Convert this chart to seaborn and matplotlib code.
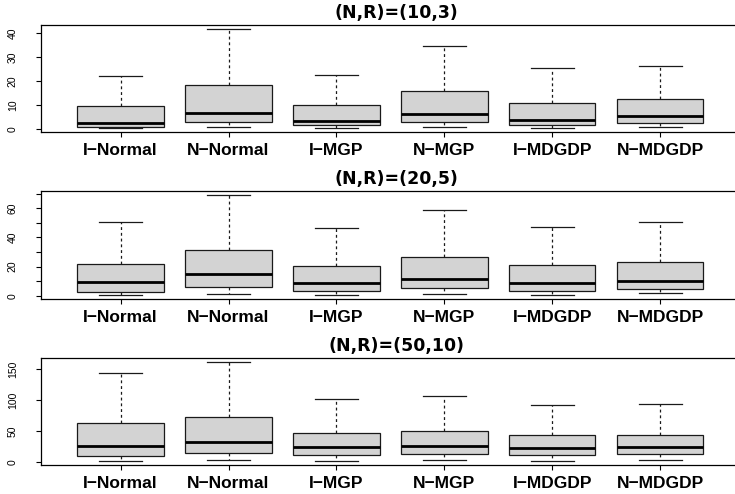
import numpy as np
import pandas as pd
import matplotlib
matplotlib.use("Agg")
import matplotlib.pyplot as plt
import seaborn as sns
from matplotlib.ticker import FixedLocator, FuncFormatter

plt.rcParams['font.family'] = ['Liberation Sans', 'DejaVu Sans']

methods = ["I\u2212Normal", "N\u2212Normal", "I\u2212MGP", "N\u2212MGP", "I\u2212MDGDP", "N\u2212MDGDP"]
titles = ["(N,R)=(10,3)", "(N,R)=(20,5)", "(N,R)=(50,10)"]

# five-number summaries (lower whisker, Q1, median, Q3, upper whisker)
lo_10_3  = [0.5, 1.1, 0.7, 1.1, 0.7, 1.1]
q1_10_3  = [1.1, 3.0, 1.6, 3.2, 1.6, 2.8]
med_10_3 = [2.6, 6.9, 3.6, 6.2, 3.7, 5.4]
q3_10_3  = [9.6, 18.3, 10.0, 15.8, 11.1, 12.4]
hi_10_3  = [22.1, 41.8, 22.7, 34.5, 25.4, 26.5]

lo_20_5  = [0.5, 1.2, 0.7, 1.2, 0.5, 1.6]
q1_20_5  = [2.7, 6.0, 3.0, 5.0, 3.4, 4.8]
med_20_5 = [9.2, 14.7, 8.7, 11.7, 8.7, 10.1]
q3_20_5  = [21.8, 31.1, 20.4, 26.8, 20.9, 23.1]
hi_20_5  = [50.4, 69.1, 46.2, 58.8, 46.9, 50.4]

lo_50_10  = [1.6, 2.7, 1.6, 3.2, 2.1, 2.7]
q1_50_10  = [9.7, 13.9, 10.8, 12.9, 10.8, 12.3]
med_50_10 = [26.3, 31.7, 23.6, 25.2, 21.9, 23.6]
q3_50_10  = [63.4, 73.1, 47.3, 50.5, 42.9, 44.5]
hi_50_10  = [144.5, 162.3, 102.6, 106.5, 92.4, 93.5]

panels = [
    (lo_10_3, q1_10_3, med_10_3, q3_10_3, hi_10_3),
    (lo_20_5, q1_20_5, med_20_5, q3_20_5, hi_20_5),
    (lo_50_10, q1_50_10, med_50_10, q3_50_10, hi_50_10),
]
ytick_sets = [
    ([0, 10, 20, 30, 40], [0, 10, 20, 30, 40]),
    ([0, 10, 20, 30, 40, 50, 60, 70], [0, 20, 40, 60]),
    ([0, 50, 100, 150], [0, 50, 100, 150]),
]

W, H = 735, 494
fig = plt.figure(figsize=(W / 100, H / 100), dpi=100)
left_px, right_px = 40.8, 740.0
frames = [(25.0, 132.0), (191.0, 299.0), (357.7, 465.0)]

for i, ((lo, q1, med, q3, hi), title, (ticks, labeled), (top, bot)) in enumerate(
        zip(panels, titles, ytick_sets, frames)):
    ax = fig.add_axes([left_px / W, 1 - bot / H, (right_px - left_px) / W, (bot - top) / H])
    vals = np.column_stack([lo, q1, med, q3, hi]).ravel()
    df = pd.DataFrame({"method": np.repeat(methods, 5), "value": vals})
    sns.boxplot(data=df, x="method", y="value", order=methods, ax=ax,
                color="#D3D3D3", saturation=1, linecolor="#1a1a1a", linewidth=0.9,
                width=0.8, whis=(0, 100), showfliers=False,
                medianprops=dict(linewidth=2.0, color="black"),
                whiskerprops=dict(linestyle=(0, (2.3, 2.3))),
                capprops=dict(linestyle="-"))
    dmin, dmax = min(lo), max(hi)
    r = dmax - dmin
    ax.set_ylim(dmin - 0.04 * r, dmax + 0.04 * r)
    ax.set_xlim(-0.74, len(methods) - 1 + 0.74)
    ax.set_xlabel("")
    ax.set_ylabel("")
    ax.yaxis.set_major_locator(FixedLocator(ticks))
    ax.yaxis.set_major_formatter(FuncFormatter(
        lambda v, p, lab=labeled: (f"{int(round(v))}" if int(round(v)) in lab else "")))
    ax.tick_params(axis="y", length=3.6, width=0.8, pad=13, labelsize=7.5, labelrotation=90)
    for t in ax.get_yticklabels():
        t.set_va("center")
    ax.tick_params(axis="x", length=3.6, width=0.8, pad=4.5, labelsize=12.5)
    for t in ax.get_xticklabels():
        t.set_fontweight("bold")
    for s in ax.spines.values():
        s.set_color("black")
        s.set_linewidth(0.9)
    ax.set_title(title, fontsize=12.5, fontweight="bold", pad=5, x=0.509,
                 family=["DejaVu Sans"])

fig.savefig("out.png", dpi=100)
